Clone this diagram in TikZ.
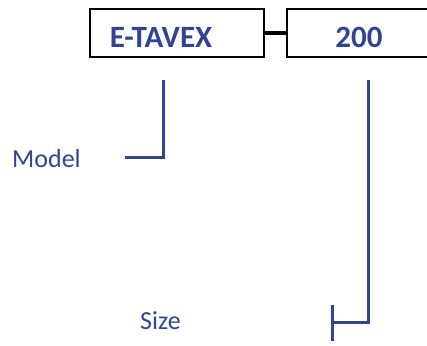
\documentclass[tikz,border=0pt]{standalone}
\usepackage{fontspec}
\setmainfont{Carlito}
\usetikzlibrary{positioning}
\definecolor{codeblue}{HTML}{2F4592}
\tikzset{
  partbox/.style={draw=black, line width=2pt, minimum height=48pt, inner sep=0pt,
    text height=30pt, text depth=0pt,
    font=\fontsize{31}{36}\selectfont\bfseries, text=codeblue},
  lead/.style={draw=codeblue, line width=3pt},
  tag/.style={font=\fontsize{26}{31}\selectfont, text=codeblue, inner sep=0pt}
}
\begin{document}
\begin{tikzpicture}[x=1pt, y=-1pt]
    \useasboundingbox (0,0) rectangle (427,345);
    \clip (0,0) rectangle (427,345);
    % code boxes
    \node[partbox, minimum width=174pt] (model) at (177,33) {E-TAVEX\hspace*{32pt}};
    \node[partbox, minimum width=144pt] (size) at (359,33) {200};
    \draw[line width=4pt] (model.east) -- (size.west);
    % labels
    \node[tag, anchor=base west] (modeltag) at (12,167) {Model};
    \node[tag, anchor=base west] (sizetag) at (140,329) {Size};
    % leaders
    \coordinate (m1) at (163,80);
    \coordinate (m2) at (163,157);
    \coordinate (m3) at (125,157);
    \draw[lead] (m1) -- (m2) -- (m3);
    \coordinate (s1) at (368,80);
    \coordinate (s2) at (368,322);
    \coordinate (s3) at (332,322);
    \draw[lead] (s1) -- (s2) -- (s3);
    \draw[lead] (332,305) -- (332,341);
\end{tikzpicture}
\end{document}
